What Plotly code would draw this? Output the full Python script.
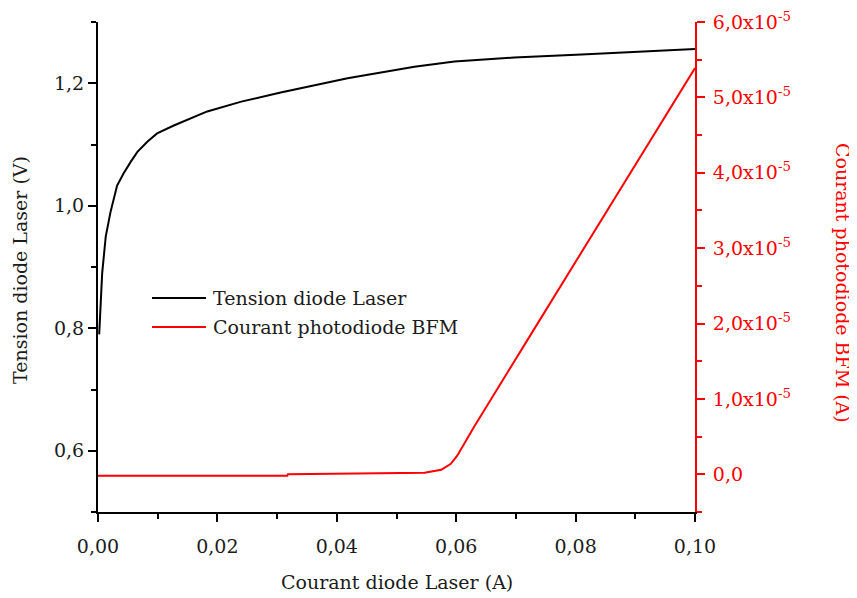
import plotly.graph_objects as go

# Data
courant_tension = [0.0002, 0.0004, 0.0007, 0.0013, 0.0021, 0.0032, 0.0043, 0.0055, 0.0066, 0.0083,
                   0.0099, 0.0127, 0.0183, 0.024, 0.0306, 0.0418, 0.053, 0.0597, 0.0697, 0.081,
                   0.092, 0.1]
tension = [0.79, 0.83, 0.89, 0.95, 0.99, 1.033, 1.053, 1.072, 1.088, 1.105,
           1.118, 1.131, 1.154, 1.17, 1.185, 1.208, 1.227, 1.2355, 1.242, 1.247,
           1.252, 1.256]

courant_bfm = [0.0, 0.0317, 0.0318, 0.0516, 0.0547, 0.0575, 0.0591, 0.0602, 0.0616,
               0.063, 0.072, 0.08, 0.088, 0.094, 0.1]
photocourant = [-0.02e-5, -0.02e-5, 0.0, 0.01e-5, 0.02e-5, 0.06e-5, 0.14e-5, 0.25e-5, 0.45e-5,
                0.63e-5, 1.79e-5, 2.82e-5, 3.85e-5, 4.62e-5, 5.39e-5]

x_ticks = [0.0, 0.02, 0.04, 0.06, 0.08, 0.10]
y2_ticks = [0.0, 1e-5, 2e-5, 3e-5, 4e-5, 5e-5, 6e-5]
y2_ticktext = ["0,0", "1,0x10<sup>-5</sup>", "2,0x10<sup>-5</sup>", "3,0x10<sup>-5</sup>",
               "4,0x10<sup>-5</sup>", "5,0x10<sup>-5</sup>", "6,0x10<sup>-5</sup>"]

FONT = "DejaVu Serif"
TXT = "#1c1c1c"
RED = "#ff0000"
FS = 19

# page body has an 8px margin: figure is sized so the plot lands where the reference has it
OFF = 8
PL, PR, PT, PB = 98, 695, 22, 512  # plot area in window pixels
W, H = 857 - OFF, 598 - OFF

def px(xw):
    return (xw - PL) / (PR - PL)

def py(yw):
    return (PB - yw) / (PB - PT)

fig = go.Figure()
fig.add_trace(go.Scatter(x=courant_tension, y=tension, mode="lines",
                         line=dict(color="black", width=2), name="Tension diode Laser",
                         showlegend=False))
fig.add_trace(go.Scatter(x=courant_bfm, y=photocourant, mode="lines", yaxis="y2",
                         line=dict(color=RED, width=2), name="Courant photodiode BFM",
                         showlegend=False))

fig.update_layout(
    width=W, height=H,
    margin=dict(l=PL - OFF, r=W - (PR - OFF), t=PT - OFF, b=H - (PB - OFF), pad=0,
                autoexpand=False),
    plot_bgcolor="white", paper_bgcolor="white",
    separators=", ",
    font=dict(family=FONT, size=FS, color=TXT),
    xaxis=dict(range=[0, 0.1], tickvals=x_ticks, tickformat=".2f", automargin=False,
               showline=True, linecolor="black", linewidth=2, showgrid=False, zeroline=False,
               ticks="outside", ticklen=8, tickwidth=2, tickcolor="black", ticklabelstandoff=8,
               minor=dict(dtick=0.01, ticks="outside", ticklen=5, tickwidth=2, tickcolor="black"),
               tickfont=dict(size=FS, color=TXT)),
    yaxis=dict(range=[0.5, 1.3], dtick=0.2, tick0=0, tickformat=".1f", automargin=False,
               showline=True, linecolor="black", linewidth=2, showgrid=False, zeroline=False,
               ticks="outside", ticklen=8, tickwidth=2, tickcolor="black", ticklabelstandoff=0,
               minor=dict(dtick=0.1, tick0=0, ticks="outside", ticklen=5, tickwidth=2, tickcolor="black"),
               tickfont=dict(size=FS, color=TXT)),
    yaxis2=dict(range=[-0.5e-5, 6e-5], overlaying="y", side="right", anchor="x", automargin=False,
                tickvals=y2_ticks, ticktext=y2_ticktext,
                showline=True, linecolor=RED, linewidth=2, showgrid=False, zeroline=False,
                ticks="outside", ticklen=8, tickwidth=2, tickcolor=RED, ticklabelstandoff=4,
                minor=dict(dtick=0.5e-5, tick0=0, ticks="outside", ticklen=5, tickwidth=2, tickcolor=RED),
                tickfont=dict(size=FS, color=RED)),
)

# Axis titles
fig.add_annotation(text="Courant diode Laser (A)", xref="paper", yref="paper",
                   x=0.5, y=py(582), xanchor="center", yanchor="middle", showarrow=False,
                   font=dict(size=FS, color=TXT))
fig.add_annotation(text="Tension diode Laser (V)", xref="paper", yref="paper",
                   x=px(20), y=py(270), xanchor="center", yanchor="middle",
                   textangle=-90, showarrow=False, font=dict(size=FS, color=TXT))
fig.add_annotation(text="Courant photodiode BFM (A)", xref="paper", yref="paper",
                   x=px(843), y=py(283), xanchor="center", yanchor="middle",
                   textangle=90, showarrow=False, font=dict(size=FS, color=RED))

# Legend (drawn manually to match the reference's line sample length)
legend_items = [("Tension diode Laser", "black", 298), ("Courant photodiode BFM", RED, 327)]
for label, color, ypix in legend_items:
    fig.add_shape(type="line", xref="paper", yref="paper", x0=px(152), x1=px(206),
                  y0=py(ypix), y1=py(ypix), line=dict(color=color, width=2))
    fig.add_annotation(text=label, xref="paper", yref="paper", x=px(211), y=py(ypix),
                       xanchor="left", yanchor="middle", showarrow=False,
                       font=dict(size=FS, color=TXT))

fig.write_html("out.html")
